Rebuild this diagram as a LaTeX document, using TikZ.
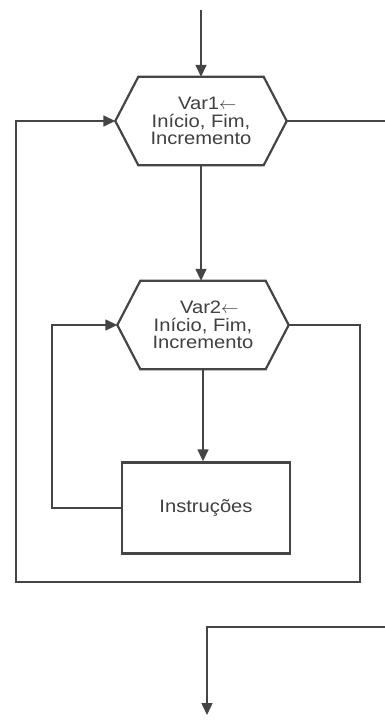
\documentclass[tikz,border=0pt]{standalone}
\usepackage{fontspec}
\setmainfont[FakeStretch=1.12]{Liberation Sans}
\usepackage{tikz}
\usetikzlibrary{arrows.meta, positioning}

\definecolor{traco}{HTML}{454545}
\definecolor{letra}{HTML}{404040}

\tikzset{
    laco/.style={minimum width=171pt, minimum height=88pt, inner sep=0pt,
        align=center, text=letra, font=\fontsize{18}{17.5}\selectfont},
    bloco/.style={draw=traco, line width=2.4pt, minimum width=168pt,
        minimum height=91pt, text=letra, font=\fontsize{18}{17}\selectfont},
    liga/.style={draw=traco, line width=1.5pt},
}

\begin{document}
\begin{tikzpicture}[x=1pt, y=-1pt, >={Triangle[length=12pt, width=11pt]}]
    % area da figura
    \fill[white] (0,0) rectangle (385,720);
    \useasboundingbox (0,0) rectangle (385,720);
    \clip (0,0) rectangle (385,720);

    % blocos
    \node[laco] (laco1) at (201,121) {\hspace*{0.7em}Var1$\leftarrow$\\Início, Fim,\\Incremento};
    \node[laco] (laco2) at (203,325) {\hspace*{0.7em}Var2$\leftarrow$\\Início, Fim,\\Incremento};
    \node[bloco] (instr) at (206,508) {Instruções};

    % contorno dos hexagonos
    \foreach \n in {laco1, laco2}
        \draw[draw=traco, line width=2.2pt, line join=miter]
            (\n.west) -- ([xshift=23pt]\n.north west) -- ([xshift=-23pt]\n.north east)
            -- (\n.east) -- ([xshift=-23pt]\n.south east) -- ([xshift=23pt]\n.south west) -- cycle;

    \coordinate (entra) at (201,10);
    \coordinate (sai) at (392,627);
    \coordinate (fim) at (207,715);

    % fluxo principal
    \draw[liga, ->] (entra) -- (laco1.north);
    \draw[liga, ->] (laco1.south) -- (laco1.south |- laco2.north);
    \draw[liga, ->] (laco2.south) -- (laco2.south |- instr.north);

    % laco interno
    \draw[liga, ->] (instr.west) -| (52,400) |- (laco2.west);

    % laco externo
    \draw[liga, ->] (laco2.east) -| (360,582) -| (16,300) |- (laco1.west);

    % saida
    \draw[liga] (laco1.east) -- (laco1.east -| sai) -- (sai);
    \draw[liga, ->] (sai) -| (fim);
\end{tikzpicture}
\end{document}
